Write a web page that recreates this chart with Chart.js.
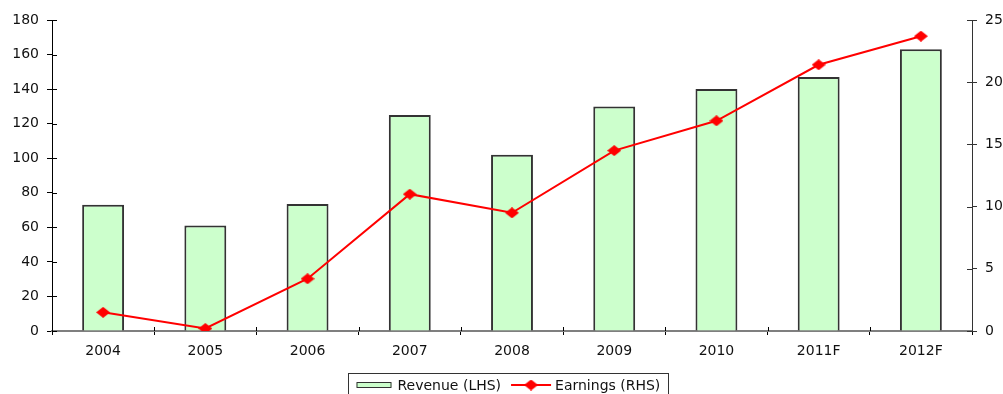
<!DOCTYPE html>
<html>
<head>
<meta charset="utf-8">
<title>Revenue and Earnings</title>
<script src="https://cdn.jsdelivr.net/npm/chart.js@4.4.1/dist/chart.umd.min.js"></script>
<style>
  html, body { margin: 0; padding: 0; background: #fff; }
  #wrap { width: 1003px; height: 394px; overflow: hidden; }
</style>
</head>
<body>
<div id="wrap"><canvas id="c" width="1003" height="394"></canvas></div>
<script>
// Years (F = forecast)
const categories = ['2004', '2005', '2006', '2007', '2008', '2009', '2010', '2011F', '2012F'];
// Revenue, left-hand scale
const revenue = [73, 61, 73.5, 125, 102, 130, 140, 147, 163];
// Earnings, right-hand scale
const earnings = [1.5, 0.2, 4.2, 11.0, 9.5, 14.5, 16.9, 21.4, 23.7];
// Axis ranges
const leftAxis = { min: 0, max: 180, step: 20 };
const rightAxis = { min: 0, max: 25, step: 5 };

const FONT = 'DejaVu Sans';
const TEXT = '#111';
const BAR_FILL = '#ccffcc';
const BAR_EDGE = '#333333';
const LINE_RED = '#ff0000';

Chart.defaults.font.family = FONT;
Chart.defaults.font.size = 14;
Chart.defaults.color = TEXT;

// Slightly wide diamond marker
function diamond(w, h, color) {
  const c = document.createElement('canvas');
  c.width = w; c.height = h;
  const g = c.getContext('2d');
  g.fillStyle = color;
  g.beginPath();
  g.moveTo(w / 2, 0);
  g.lineTo(w, h / 2);
  g.lineTo(w / 2, h);
  g.lineTo(0, h / 2);
  g.closePath();
  g.fill();
  return c;
}
const marker = diamond(14, 11, LINE_RED);

// Tick stubs that cross into the plot area
const innerTicks = {
  id: 'innerTicks',
  afterDraw(chart) {
    const { ctx, chartArea } = chart;
    const x = chart.scales.x, yl = chart.scales.yL, yr = chart.scales.yR;
    ctx.save();
    ctx.lineWidth = 1;
    ctx.strokeStyle = '#000';
    yl.ticks.forEach(t => {
      const py = Math.round(yl.getPixelForValue(t.value)) + 0.5;
      ctx.beginPath(); ctx.moveTo(chartArea.left, py); ctx.lineTo(chartArea.left + 5, py); ctx.stroke();
    });
    ctx.strokeStyle = '#333';
    yr.ticks.forEach(t => {
      const py = Math.round(yr.getPixelForValue(t.value)) + 0.5;
      ctx.beginPath(); ctx.moveTo(chartArea.right - 5, py); ctx.lineTo(chartArea.right, py); ctx.stroke();
    });
    ctx.strokeStyle = '#000';
    const half = (x.getPixelForValue(1) - x.getPixelForValue(0)) / 2;
    for (let i = 1; i < categories.length; i++) {
      const px = Math.round(x.getPixelForValue(i) - half) + 0.5;
      ctx.beginPath(); ctx.moveTo(px, chartArea.bottom - 4); ctx.lineTo(px, chartArea.bottom); ctx.stroke();
    }
    ctx.restore();
  }
};

// Boxed legend below the axis
const boxedLegend = {
  id: 'boxedLegend',
  afterDraw(chart) {
    const { ctx } = chart;
    const bar = chart.data.datasets[0], line = chart.data.datasets[1];
    ctx.save();
    ctx.font = '14px ' + FONT;
    const swatchW = 35, lineW = 40, gap = 6, pad = 8, sep = 10;
    const w1 = ctx.measureText(bar.label).width;
    const w2 = ctx.measureText(line.label).width;
    const total = pad + swatchW + gap + w1 + sep + lineW + 4 + w2 + pad;
    const cx = (chart.chartArea.left + chart.chartArea.right) / 2 - 4;
    const left = Math.round(cx - total / 2) + 0.5;
    const top = 373.5;
    ctx.strokeStyle = '#333';
    ctx.lineWidth = 1;
    ctx.strokeRect(left, top, Math.round(total), 40);
    const base = 390;
    let x = left + pad;
    ctx.fillStyle = BAR_FILL;
    ctx.fillRect(x, 383, swatchW, 4);
    ctx.strokeStyle = BAR_EDGE;
    ctx.strokeRect(x + 0.5, 382.5, swatchW - 1, 5);
    x += swatchW + gap;
    ctx.fillStyle = TEXT;
    ctx.textBaseline = 'alphabetic';
    ctx.fillText(bar.label, x, base);
    x += w1 + sep;
    ctx.strokeStyle = LINE_RED;
    ctx.lineWidth = 2;
    ctx.beginPath(); ctx.moveTo(x, 385); ctx.lineTo(x + lineW, 385); ctx.stroke();
    ctx.drawImage(marker, x + lineW / 2 - marker.width / 2, 385 - marker.height / 2);
    x += lineW + 4;
    ctx.fillStyle = TEXT;
    ctx.fillText(line.label, x, base);
    ctx.restore();
  }
};

new Chart(document.getElementById('c'), {
  data: {
    labels: categories,
    datasets: [
      {
        type: 'bar',
        label: 'Revenue (LHS)',
        data: revenue,
        yAxisID: 'yL',
        backgroundColor: BAR_FILL,
        borderColor: BAR_EDGE,
        borderWidth: 2,
        borderSkipped: 'bottom',
        barPercentage: 0.41,
        categoryPercentage: 1.0,
        order: 2
      },
      {
        type: 'line',
        label: 'Earnings (RHS)',
        data: earnings,
        yAxisID: 'yR',
        borderColor: LINE_RED,
        backgroundColor: LINE_RED,
        borderWidth: 2,
        pointStyle: marker,
        pointRadius: 6,
        tension: 0,
        order: 1
      }
    ]
  },
  options: {
    responsive: false,
    animation: false,
    layout: { padding: { top: 20, left: 0, right: 0, bottom: 0 } },
    plugins: { legend: { display: false }, tooltip: { enabled: false } },
    scales: {
      x: {
        offset: true,
        grid: { offset: true, drawOnChartArea: false, tickLength: 4, color: '#000' },
        border: { color: '#7f7f7f', width: 2 },
        ticks: { padding: 8, maxRotation: 0, autoSkip: false },
        afterFit(s) { s.height = 63; }
      },
      yL: {
        position: 'left',
        min: leftAxis.min, max: leftAxis.max,
        ticks: { stepSize: leftAxis.step, padding: 8 },
        grid: { drawOnChartArea: false, tickLength: 5, color: '#000' },
        border: { color: '#000', width: 1 },
        afterFit(s) { s.width = 52; }
      },
      yR: {
        position: 'right',
        min: rightAxis.min, max: rightAxis.max,
        ticks: { stepSize: rightAxis.step, padding: 8 },
        grid: { drawOnChartArea: false, tickLength: 5, color: '#333' },
        border: { color: '#333', width: 1 },
        afterFit(s) { s.width = 31; }
      }
    }
  },
  plugins: [innerTicks, boxedLegend]
});
</script>
</body>
</html>
